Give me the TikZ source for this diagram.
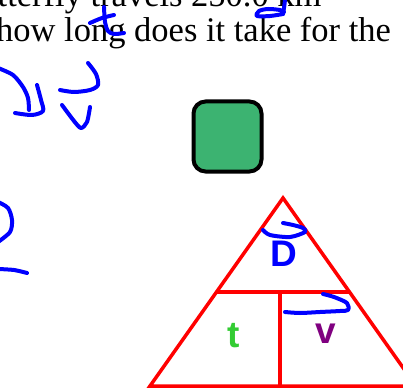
\documentclass[tikz,border=0pt]{standalone}
\usepackage{fontspec}
\setmainfont{Liberation Serif}
\newfontfamily\labelfont{Liberation Sans}
\definecolor{inkblue}{HTML}{0000FF}
\definecolor{boxgreen}{HTML}{3CB371}
\definecolor{tgreen}{HTML}{33CC33}
\definecolor{vpurple}{HTML}{800080}
\tikzset{
  txt/.style={inner sep=0pt, anchor=base west, font=\fontsize{34.5}{40}\selectfont},
  ink/.style={draw=inkblue, line width=4pt, line cap=round, line join=round},
  redline/.style={draw=red, line width=3.5pt, line cap=butt},
  lbl/.style={inner sep=0pt, anchor=base, font=\labelfont\bfseries\fontsize{37}{42}\selectfont},
}
\begin{document}
\begin{tikzpicture}[x=1pt,y=-1pt]
\useasboundingbox (0,0) rectangle (403,387);
\clip (0,0) rectangle (403,387);
\fill[white] (0,0) rectangle (403,387);
% text
\node[txt] (line1) at (-37,6.5) {butterfly travels 250.0 km};
\node[txt] (line2) at (-4,41.5) {how long does it take for the};
% green box
\node[draw=black, line width=4pt, fill=boxgreen, rounded corners=12pt,
      minimum width=68pt, minimum height=70pt, inner sep=0pt] (box) at (227.5,136.5) {};
% triangle
\coordinate (apex) at (283,198);
\coordinate (bl) at (150,386);
\coordinate (br) at (416,386);
\coordinate (ml) at (217,292);
\coordinate (mr) at (349,292);
\coordinate (mt) at (280,292);
\coordinate (mb) at (280,387);
\draw[redline, line join=miter] (bl) -- (apex) -- (br) -- cycle;
\draw[redline] (ml) -- (mr);
\draw[redline] (mt) -- (mb);
% labels
\node[lbl, text=inkblue] (D) at (284,266) {D};
\node[lbl, text=tgreen] (t) at (234,347) {t};
\node[lbl, text=vpurple] (v) at (326,343) {v};
% handwriting strokes
\draw[ink] plot[smooth] coordinates {(104,7) (105,22) (108,31) (114,34) (124,33)};
\draw[ink] plot[smooth] coordinates {(90,23) (102,18) (114,15)};
\draw[ink] plot[smooth] coordinates {(285,0) (284,8) (283,14)};
\draw[ink] plot[smooth] coordinates {(283,14) (270,16) (257,16) (259,11) (268,9) (280,10) (284,12)};
\draw[ink] plot[smooth] coordinates {(-2,68) (13,75) (23,87) (28,98) (29,110)};
\draw[ink] plot[smooth] coordinates {(15,113) (32,115) (43,111) (41,100) (37,85)};
\draw[ink] plot[smooth] coordinates {(88,63) (96,74) (98,85) (90,90) (74,92) (60,90)};
\draw[ink] plot[smooth] coordinates {(62,105) (74,121) (81,128) (87,122) (90,107)};
\draw[ink] plot[smooth] coordinates {(-2,202) (8,208) (12,220) (10,232) (-2,242)};
\draw[ink] plot[smooth] coordinates {(-2,269) (14,270) (27,273)};
\draw[ink] plot[smooth] coordinates {(263,230) (270,235) (290,237) (305,232) (303,228) (293,225) (283,223)};
\draw[ink] plot[smooth] coordinates {(323,294) (334,297) (347,303) (348,310) (340,311) (320,312) (300,313) (285,312)};
\end{tikzpicture}
\end{document}
